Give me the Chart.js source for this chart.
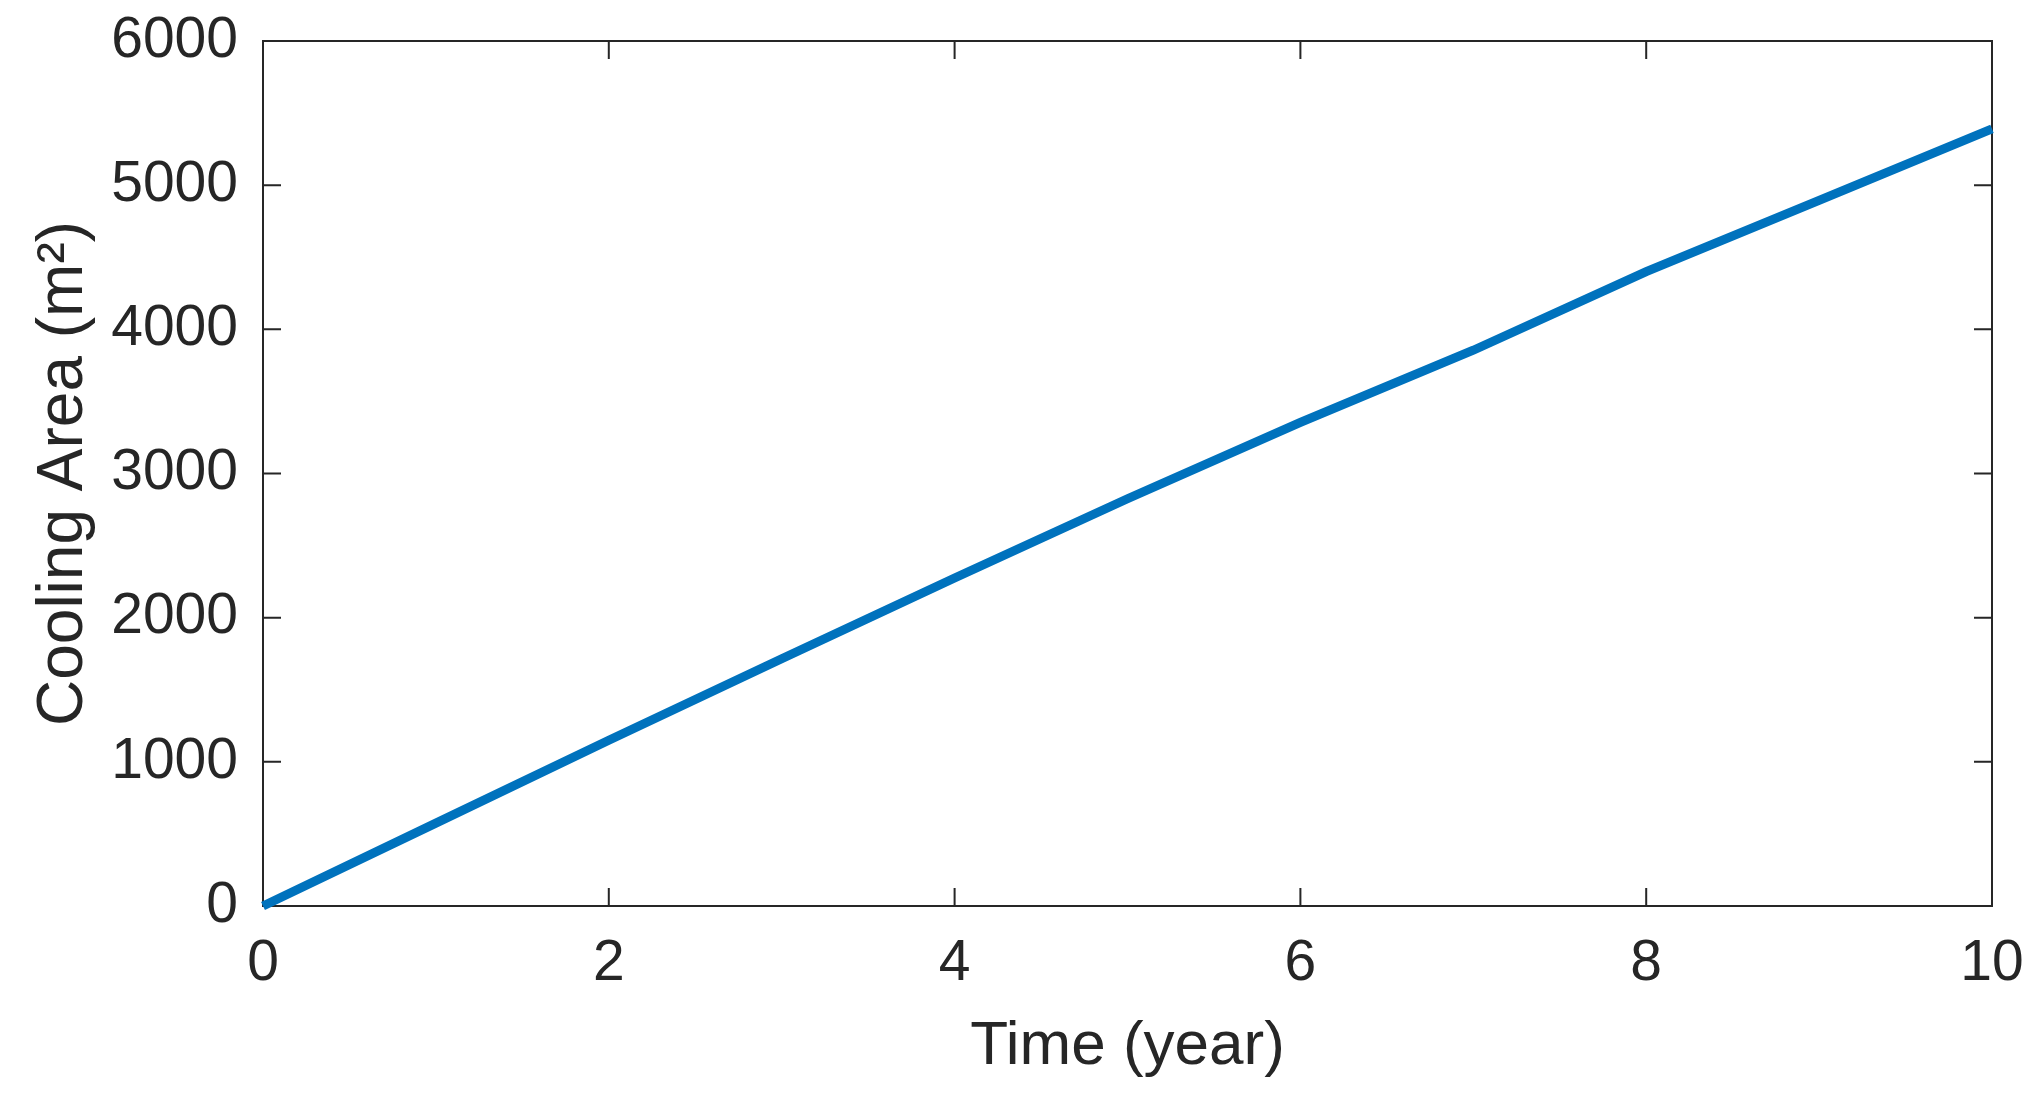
<!DOCTYPE html>
<html>
<head>
<meta charset="utf-8">
<script src="https://cdn.jsdelivr.net/npm/chart.js@4.4.1/dist/chart.umd.min.js"></script>
<style>
  html, body { margin: 0; padding: 0; background: #fff; }
  canvas { display: block; }
</style>
</head>
<body>
<canvas id="coolingChart" width="2033" height="1093"></canvas>
<script>
// data
const years = [0, 1, 2, 3, 4, 5, 6, 7, 8, 9, 10];
const coolingArea = [0, 575, 1150, 1715, 2275, 2825, 3355, 3855, 4400, 4895, 5390];
const xTicks = [0, 2, 4, 6, 8, 10];
const yTicks = [0, 1000, 2000, 3000, 4000, 5000, 6000];

const axisColor = '#262626';
const fontFamily = "'Liberation Sans', Arial, Helvetica, sans-serif";

// MATLAB-style box with inward ticks on all four sides
const boxTicks = {
    id: 'boxTicks',
    beforeDatasetsDraw(chart) {
        const { ctx, chartArea: a, scales } = chart;
        const len = 18;
        ctx.save();
        ctx.strokeStyle = axisColor;
        ctx.lineWidth = 2;
        ctx.strokeRect(a.left, a.top, a.right - a.left, a.bottom - a.top);
        ctx.beginPath();
        xTicks.forEach(v => {
            const px = scales.x.getPixelForValue(v);
            ctx.moveTo(px, a.bottom); ctx.lineTo(px, a.bottom - len);
            ctx.moveTo(px, a.top); ctx.lineTo(px, a.top + len);
        });
        yTicks.forEach(v => {
            const py = scales.y.getPixelForValue(v);
            ctx.moveTo(a.left, py); ctx.lineTo(a.left + len, py);
            ctx.moveTo(a.right, py); ctx.lineTo(a.right - len, py);
        });
        ctx.stroke();
        ctx.restore();
    }
};

const ctx = document.getElementById('coolingChart').getContext('2d');
const coolingChart = new Chart(ctx, {
    type: 'line',
    data: {
        datasets: [{
            data: years.map((t, i) => ({ x: t, y: coolingArea[i] })),
            borderColor: '#0072BD',
            borderWidth: 9,
            pointRadius: 0,
            tension: 0,
            clip: false
        }]
    },
    options: {
        responsive: false,
        animation: false,
        events: [],
        layout: { padding: { top: 41, right: 41, left: 0, bottom: 0 } },
        plugins: {
            legend: { display: false },
            tooltip: { enabled: false }
        },
        scales: {
            x: {
                type: 'linear',
                min: 0,
                max: 10,
                afterBuildTicks: s => { s.ticks = xTicks.map(v => ({ value: v })); },
                afterFit: s => {
                    s.height = 187;
                    s.paddingLeft = 0;
                    s.paddingRight = 0;
                },
                grid: { display: false, drawTicks: false },
                border: { display: false },
                ticks: {
                    color: axisColor,
                    padding: 24,
                    maxRotation: 0,
                    callback: v => String(v),
                    font: { family: fontFamily, size: 57 }
                },
                title: {
                    display: true,
                    text: 'Time (year)',
                    color: axisColor,
                    padding: { top: 0, bottom: 9 },
                    font: { family: fontFamily, size: 62 }
                }
            },
            y: {
                type: 'linear',
                min: 0,
                max: 6000,
                afterBuildTicks: s => { s.ticks = yTicks.map(v => ({ value: v })); },
                afterFit: s => {
                    s.width = 263;
                    s.paddingTop = 0;
                    s.paddingBottom = 0;
                },
                grid: { display: false, drawTicks: false },
                border: { display: false },
                ticks: {
                    color: axisColor,
                    padding: 25,
                    callback: v => String(v),
                    font: { family: fontFamily, size: 57 }
                },
                title: {
                    display: true,
                    text: 'Cooling Area (m²)',
                    color: axisColor,
                    padding: { top: 26, bottom: 0 },
                    font: { family: fontFamily, size: 64 }
                }
            }
        }
    },
    plugins: [boxTicks]
});
</script>
</body>
</html>
